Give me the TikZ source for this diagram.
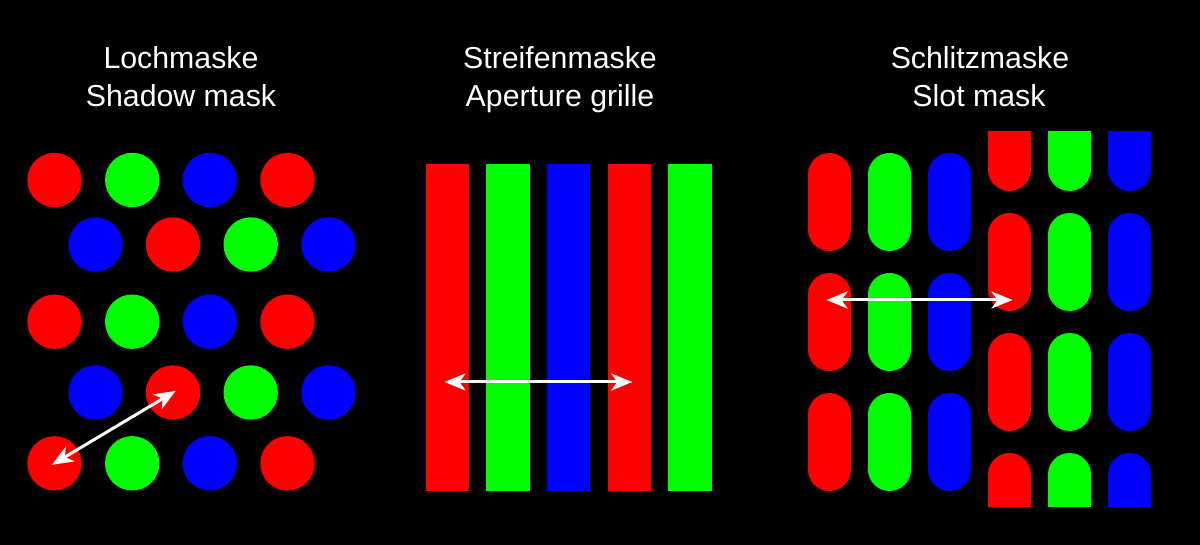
\documentclass[tikz,border=0pt]{standalone}
\usepackage{fontspec}
\setmainfont{Liberation Sans}
\usepackage{tikz}
\usetikzlibrary{arrows.meta}
\tikzstyle{trou} = [circle, inner sep=0pt, minimum size=54.4pt, draw=none]
\tikzstyle{bande} = [rectangle, inner sep=0pt, minimum width=43.5pt, minimum height=327pt, draw=none]
\tikzstyle{fente} = [rectangle, rounded corners=21.5pt, inner sep=0pt, minimum width=43pt, minimum height=98pt, draw=none]
\tikzstyle{titre} = [text=white, anchor=base, inner sep=0pt, font=\fontsize{30.3}{38}\selectfont]
\tikzstyle{fleche} = [{Stealth[length=21pt,width=17pt,inset=6pt]}-{Stealth[length=21pt,width=17pt,inset=6pt]}, white, line width=3pt, shorten <=-3pt, shorten >=-3pt]

\begin{document}
\begin{tikzpicture}[x=1pt, y=-1pt]

        \fill[black] (0,0) rectangle (1200,545);
        \useasboundingbox (0,0) rectangle (1200,545);

        % titres
        \node (loch) [titre] at (181,68.5) {Lochmaske};
        \node (shadow) [titre] at (181,106.5) {Shadow mask};
        \node (streifen) [titre] at (560,68.5) {Streifenmaske};
        \node (aperture) [titre] at (560,106.5) {Aperture grille};
        \node (schlitz) [titre] at (980,68.5) {Schlitzmaske};
        \node (slot) [titre] at (979,106.5) {Slot mask};

        % Lochmaske
        \node (c11) [trou, fill=red] at (54.5,180) {};
        \node (c12) [trou, fill=green] at (132.2,180) {};
        \node (c13) [trou, fill=blue] at (209.8,180) {};
        \node (c14) [trou, fill=red] at (287.5,180) {};

        \node (c21) [trou, fill=blue] at (95.5,244.5) {};
        \node (c22) [trou, fill=red] at (173,244.5) {};
        \node (c23) [trou, fill=green] at (250.7,244.5) {};
        \node (c24) [trou, fill=blue] at (328.5,244.5) {};

        \node (c31) [trou, fill=red] at (54.5,321.7) {};
        \node (c32) [trou, fill=green] at (132.2,321.7) {};
        \node (c33) [trou, fill=blue] at (209.8,321.7) {};
        \node (c34) [trou, fill=red] at (287.5,321.7) {};

        \node (c41) [trou, fill=blue] at (95.5,392.5) {};
        \node (c42) [trou, fill=red] at (173,392.5) {};
        \node (c43) [trou, fill=green] at (250.7,392.5) {};
        \node (c44) [trou, fill=blue] at (328.5,392.5) {};

        \node (c51) [trou, fill=red] at (54.5,463.3) {};
        \node (c52) [trou, fill=green] at (132.2,463.3) {};
        \node (c53) [trou, fill=blue] at (209.8,463.3) {};
        \node (c54) [trou, fill=red] at (287.5,463.3) {};

        \draw[fleche] (c51.center) -- (c42.center);

        % Streifenmaske
        \node (s1) [bande, fill=red] at (447.5,327.2) {};
        \node (s2) [bande, fill=green] at (508,327.2) {};
        \node (s3) [bande, fill=blue] at (568.7,327.2) {};
        \node (s4) [bande, fill=red] at (629.3,327.2) {};
        \node (s5) [bande, fill=green] at (690,327.2) {};

        \coordinate (gA) at (447.5,382);
        \coordinate (gB) at (629.3,382);
        \draw[fleche] (gA) -- (gB);

        % Schlitzmaske, gauche
        \node (f11) [fente, fill=red] at (829.5,202) {};
        \node (f12) [fente, fill=green] at (889.5,202) {};
        \node (f13) [fente, fill=blue] at (949.5,202) {};
        \node (f21) [fente, fill=red] at (829.5,322) {};
        \node (f22) [fente, fill=green] at (889.5,322) {};
        \node (f23) [fente, fill=blue] at (949.5,322) {};
        \node (f31) [fente, fill=red] at (829.5,442) {};
        \node (f32) [fente, fill=green] at (889.5,442) {};
        \node (f33) [fente, fill=blue] at (949.5,442) {};

        % Schlitzmaske, droite
        \begin{scope}
        \clip (980,132) rectangle (1160,506);
        \node (g11) [fente, fill=red] at (1009.5,142) {};
        \node (g12) [fente, fill=green] at (1069.5,142) {};
        \node (g13) [fente, fill=blue] at (1129.5,142) {};
        \node (g21) [fente, fill=red] at (1009.5,262) {};
        \node (g22) [fente, fill=green] at (1069.5,262) {};
        \node (g23) [fente, fill=blue] at (1129.5,262) {};
        \node (g31) [fente, fill=red] at (1009.5,382) {};
        \node (g32) [fente, fill=green] at (1069.5,382) {};
        \node (g33) [fente, fill=blue] at (1129.5,382) {};
        \node (g41) [fente, fill=red] at (1009.5,502) {};
        \node (g42) [fente, fill=green] at (1069.5,502) {};
        \node (g43) [fente, fill=blue] at (1129.5,502) {};
        \end{scope}

        \coordinate (fA) at (829.5,300);
        \coordinate (fB) at (1009.5,300);
        \draw[fleche] (fA) -- (fB);

    \end{tikzpicture}
\end{document}
